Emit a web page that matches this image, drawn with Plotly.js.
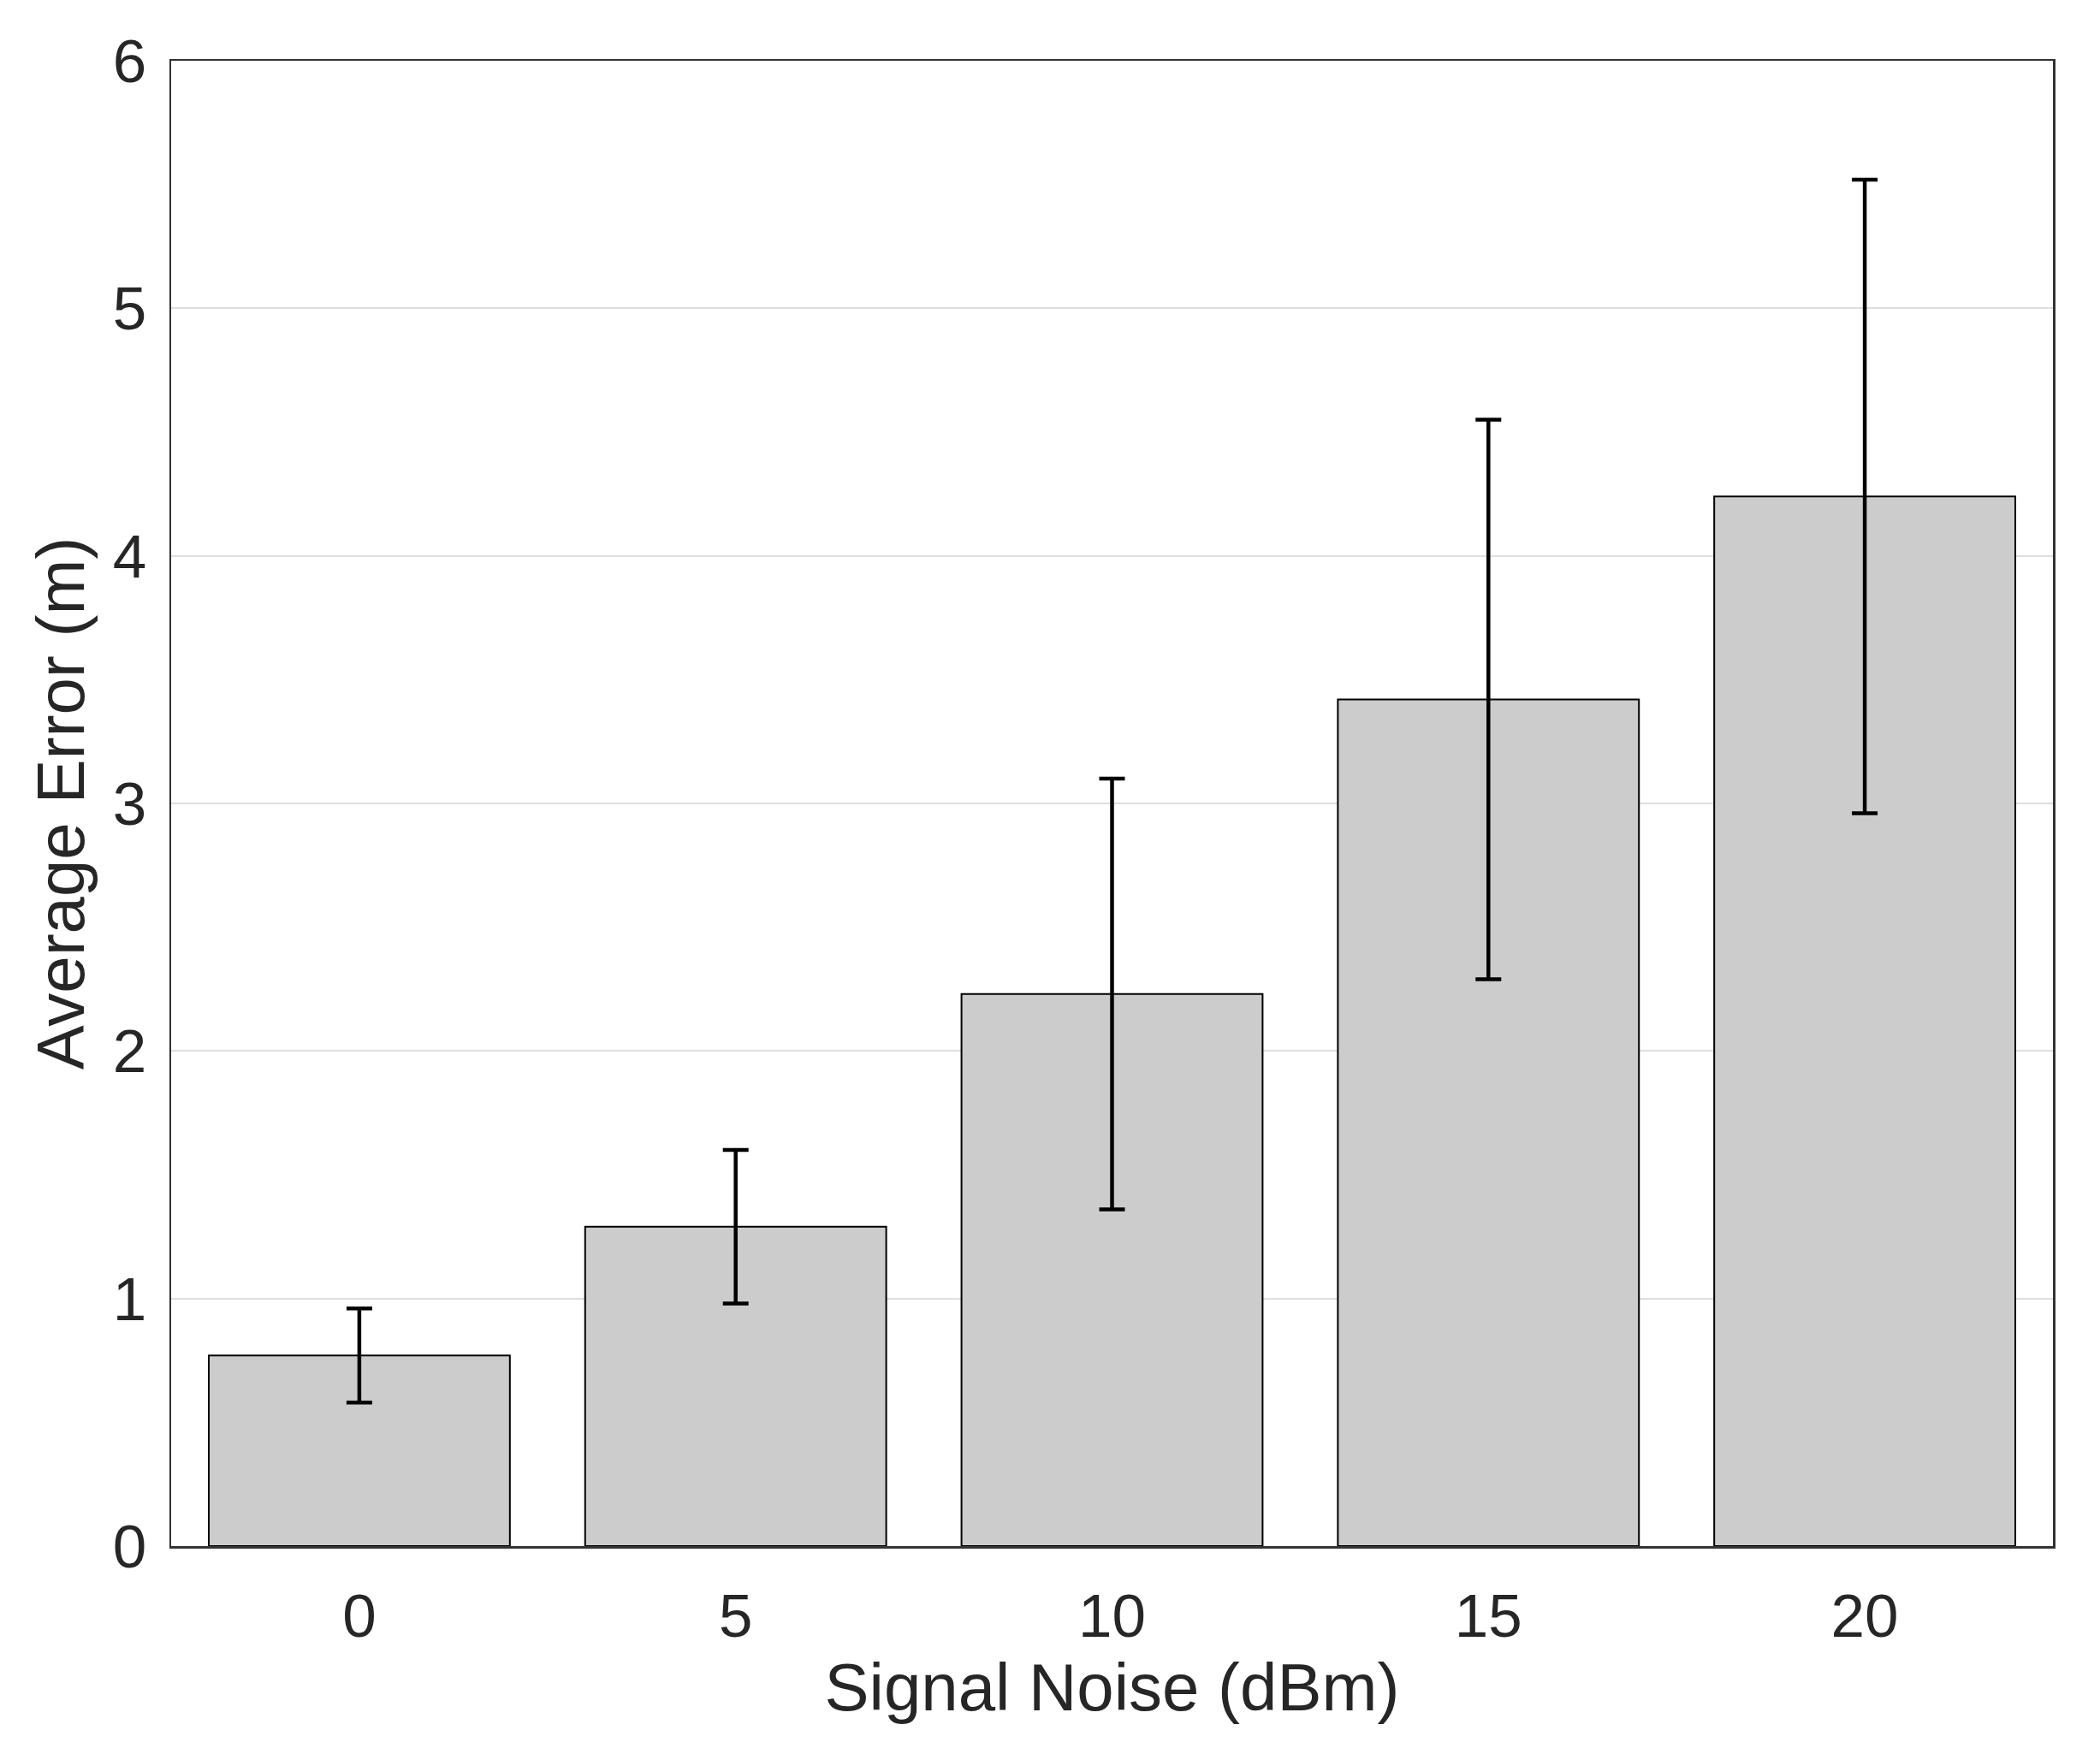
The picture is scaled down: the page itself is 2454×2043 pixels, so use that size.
<!DOCTYPE html>
<html>
<head>
<meta charset="utf-8">
<script src="https://cdn.plot.ly/plotly-3.0.1.min.js"></script>
<style>html,body{margin:0;padding:0;background:#fff;}</style>
</head>
<body>
<div id="chart" style="width:2454px;height:2043px;"></div>
<script>
// Data
const noiseLevels = ['0', '5', '10', '15', '20'];
const avgError = [0.77, 1.29, 2.23, 3.42, 4.24];
const errorSD = [0.19, 0.31, 0.87, 1.13, 1.28];
const yTicks = [0, 1, 2, 3, 4, 5, 6];

const trace = {
  type: 'bar',
  x: noiseLevels,
  y: avgError,
  marker: { color: '#cccccc', line: { color: '#000000', width: 2 } },
  error_y: { type: 'data', array: errorSD, visible: true, color: '#000000', thickness: 4.5, width: 15 },
  hoverinfo: 'none'
};

const fontFam = '"Liberation Sans", Arial, sans-serif';
const layout = {
  width: 2454,
  height: 2043,
  margin: { l: 200, r: 55, t: 71, b: 236 },
  paper_bgcolor: '#ffffff',
  plot_bgcolor: '#ffffff',
  bargap: 0.2,
  showlegend: false,
  font: { family: fontFam, color: '#262626' },
  xaxis: {
    type: 'category',
    range: [-0.5, 4.5],
    showline: true, mirror: true, linecolor: '#333333', linewidth: 2.5,
    showgrid: false, zeroline: false,
    ticks: '', ticklabelstandoff: 18,
    tickfont: { family: fontFam, size: 71, color: '#262626' },
    title: { text: 'Signal Noise (dBm)', font: { family: fontFam, size: 78, color: '#262626' }, standoff: 10 }
  },
  yaxis: {
    range: [0, 6],
    tickvals: yTicks,
    ticktext: yTicks.map(String),
    showline: true, mirror: true, linecolor: '#333333', linewidth: 2.5,
    showgrid: true, gridcolor: '#dedede', gridwidth: 2,
    zeroline: false,
    ticks: '', ticklabelstandoff: 12,
    tickfont: { family: fontFam, size: 71, color: '#262626' },
    title: { text: 'Average Error (m)', font: { family: fontFam, size: 78, color: '#262626' }, standoff: 8 }
  }
};

Plotly.newPlot('chart', [trace], layout, { displayModeBar: false, staticPlot: true });
</script>
</body>
</html>
